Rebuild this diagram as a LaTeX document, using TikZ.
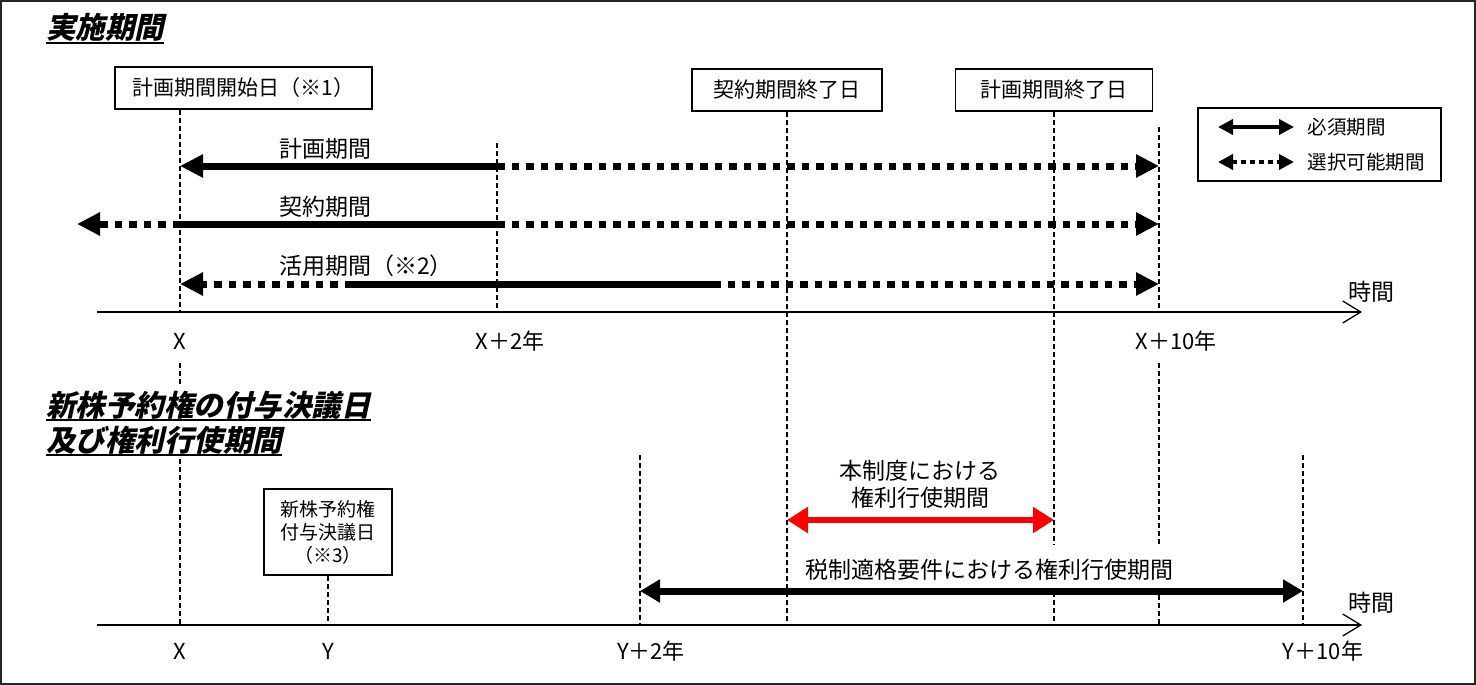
\documentclass[tikz,border=0pt]{standalone}
\usepackage{fontspec}
\setmainfont{Noto Sans CJK JP}
\newfontfamily\headfont{Noto Sans CJK JP}[FakeSlant=0.22]
\usetikzlibrary{arrows.meta}
\tikzstyle{headline}=[inner xsep=0pt,inner ysep=5pt,fill=white,font=\headfont\bfseries\fontsize{29.5}{33}\selectfont]
\tikzstyle{datebox}=[draw,line width=1.6pt,fill=white,minimum height=42pt,font=\fontsize{21}{25}\selectfont]
\tikzstyle{tick}=[minimum height=44pt,font=\fontsize{22}{26}\selectfont]
\tikzstyle{caption}=[inner sep=3pt,font=\fontsize{23}{27}\selectfont]
\tikzstyle{legtext}=[anchor=west,font=\fontsize{19.5}{23}\selectfont]
\tikzstyle{guide}=[line width=1.2pt,dash pattern=on 5pt off 3pt]
\tikzstyle{must}=[line width=7pt]
\tikzstyle{opt}=[line width=7pt,dash pattern=on 7.5pt off 7pt]
\tikzstyle{ahead}=[-{Triangle[length=23pt,width=22pt]}]
\tikzstyle{axis}=[line width=1.3pt,-{Straight Barb[length=18pt,width=22pt,line width=1.3pt]}]

\begin{document}
\begin{tikzpicture}[x=1pt,y=-1pt]
  \useasboundingbox (0,0) rectangle (1476,685);
  \draw[line width=2pt,black!85] (1,1) rectangle (1475,684);

  \coordinate (cOut) at (77,0);
  \coordinate (cX) at (180,0);
  \coordinate (cY) at (328,0);
  \coordinate (cU1) at (352,0);
  \coordinate (cX2) at (497,0);
  \coordinate (cY2) at (640,0);
  \coordinate (cU2) at (713,0);
  \coordinate (cK) at (787,0);
  \coordinate (cP) at (1054,0);
  \coordinate (cX10) at (1159,0);
  \coordinate (cY10) at (1303,0);
  \coordinate (rPlan) at (0,166);
  \coordinate (rCon) at (0,224);
  \coordinate (rUse) at (0,284);
  \coordinate (rAxisA) at (0,312);
  \coordinate (rRed) at (0,520);
  \coordinate (rTax) at (0,591);
  \coordinate (rAxisB) at (0,625);

  \node[headline,anchor=base west] (t1) at (46,39) {実施期間};
  \draw[line width=1.6pt] ([yshift=-4pt]t1.base west) -- ([yshift=-4pt]t1.base east);

  \node[datebox,minimum width=257pt] (startbox) at (243.5,88) {計画期間開始日（※1）};
  \node[datebox,minimum width=190pt] (kbox) at (787,90) {契約期間終了日};
  \node[datebox,minimum width=197pt] (pbox) at (1054,90) {計画期間終了日};

  \node[draw,line width=1.6pt,minimum width=243pt,minimum height=73pt] (legend) at (1319.5,144.5) {};
  \node[legtext] (lmust) at (1304,127) {必須期間};
  \node[legtext] (lopt) at (1304,162) {選択可能期間};
  \draw[line width=4pt,{Triangle[length=15pt,width=15pt]}-{Triangle[length=15pt,width=15pt]}]
    ([xshift=-86pt]lmust.west) -- ([xshift=-10pt]lmust.west);
  \draw[line width=4pt,dash pattern=on 5pt off 4pt,{Triangle[length=15pt,width=15pt]}-{Triangle[length=15pt,width=15pt]}]
    ([xshift=-86pt]lopt.west) -- ([xshift=-10pt]lopt.west);

  \node[tick] (lX) at (180,341) {X};
  \node[tick] (lX2) at (510,341) {X＋2年};
  \node[tick] (lX10) at (1176,341) {X＋10年};
  \node[caption] (timeA) at (1371,292) {時間};
  \coordinate (x2top) at (497,143);
  \coordinate (x10top) at (1159,127);
  \coordinate (axisAstart) at (97,312);
  \coordinate (axisAend) at (1362,312);

  \draw[guide] (cX |- startbox.south) -- (cX |- rAxisA);
  \draw[guide] (x2top) -- (cX2 |- rAxisA);
  \draw[guide] (x10top) -- (cX10 |- rAxisA);
  \draw[guide] (kbox.south) -- (cK |- rAxisB);
  \draw[guide] (pbox.south) -- (cP |- rAxisB);
  \draw[guide] (cX |- lX.south) -- (cX |- rAxisB);
  \draw[guide] (cX10 |- lX10.south) -- (cX10 |- rAxisB);
  \draw[axis] (axisAstart) -- (axisAend);

  \node[caption,anchor=west] (lplan) at (276,149) {計画期間};
  \node[caption,anchor=west] (lcon) at (276,207) {契約期間};
  \node[caption,anchor=west] (luse) at (276,266) {活用期間（※2）};
  \draw[must,ahead] (cX2 |- rPlan) -- (cX |- rPlan);
  \draw[opt,ahead] (cX2 |- rPlan) -- (cX10 |- rPlan);
  \draw[opt,ahead] (cX |- rCon) -- (cOut |- rCon);
  \draw[must] (cX |- rCon) -- (cX2 |- rCon);
  \draw[opt,ahead] (cX2 |- rCon) -- (cX10 |- rCon);
  \draw[opt,ahead] (cU1 |- rUse) -- (cX |- rUse);
  \draw[must] (cU1 |- rUse) -- (cU2 |- rUse);
  \draw[opt,ahead] (cU2 |- rUse) -- (cX10 |- rUse);

  \node[datebox,minimum width=128pt,minimum height=86pt,align=center,font=\fontsize{19}{23}\selectfont] (ybox) at (328,532) {新株予約権\\付与決議日\\（※3）};
  \coordinate (y2top) at (640,455);
  \coordinate (y10top) at (1303,455);
  \coordinate (axisBstart) at (97,625);
  \coordinate (axisBend) at (1362,625);
  \draw[guide] (ybox.south) -- (cY |- rAxisB);
  \draw[guide] (y2top) -- (cY2 |- rAxisB);
  \draw[guide] (y10top) -- (cY10 |- rAxisB);
  \draw[axis] (axisBstart) -- (axisBend);

  \node[headline,anchor=base west] (t2a) at (46,416) {新株予約権の付与決議日};
  \node[headline,anchor=base west] (t2b) at (46,451) {及び権利行使期間};
  \draw[line width=1.6pt] ([yshift=-4pt]t2a.base west) -- ([yshift=-4pt]t2a.base east);
  \draw[line width=1.6pt] ([yshift=-4pt]t2b.base west) -- ([yshift=-4pt]t2b.base east);

  \node[tick] (lXb) at (180,651) {X};
  \node[tick] (lY) at (328,651) {Y};
  \node[tick] (lY2) at (651,651) {Y＋2年};
  \node[tick] (lY10) at (1323,651) {Y＋10年};
  \node[caption] (timeB) at (1371,603) {時間};

  \node[caption,align=center] (lred) at (920,484) {本制度における\\権利行使期間};
  \draw[line width=6pt,red,{Triangle[length=21pt,width=25pt]}-{Triangle[length=21pt,width=25pt]}]
    (cK |- rRed) -- (cP |- rRed);
  \node[caption,fill=white,minimum height=50pt] (ltax) at (989,570) {税制適格要件における権利行使期間};
  \draw[line width=7pt,{Triangle[length=20pt,width=22pt]}-{Triangle[length=20pt,width=22pt]}]
    (cY2 |- rTax) -- (cY10 |- rTax);
\end{tikzpicture}
\end{document}
